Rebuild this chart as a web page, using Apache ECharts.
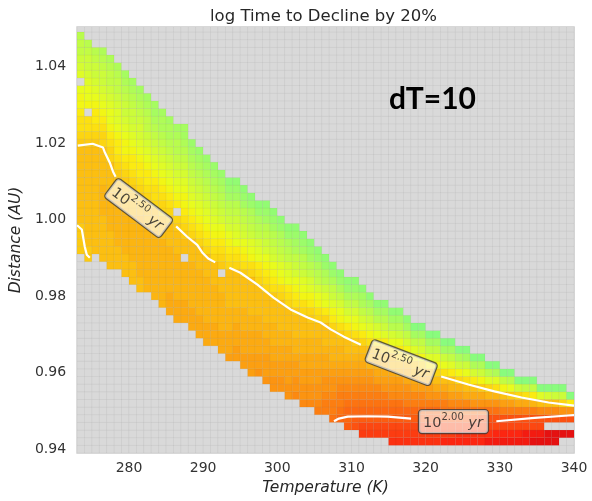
<!DOCTYPE html>
<html><head><meta charset="utf-8">
<script src="https://cdn.jsdelivr.net/npm/echarts@6/dist/echarts.min.js"></script>
<style>html,body{margin:0;padding:0;background:#fff}#c{width:592px;height:501px}</style>
</head><body><div id="c"></div>
<script>
// ---- data ----
// cell left edges in K
const temperatures = [273,274,275,276,277,278,279,280,281,282,283,284,285,286,287,288,289,290,291,292,293,294,295,296,297,298,299,300,301,302,303,304,305,306,307,308,309,310,311,312,313,314,315,316,317,318,319,320,321,322,323,324,325,326,327,328,329,330,331,332,333,334,335,336,337,338,339];
// cell centres in AU
const distances = [0.940,0.942,0.944,0.946,0.948,0.950,0.952,0.954,0.956,0.958,0.960,0.962,0.964,0.966,0.968,0.970,0.972,0.974,0.976,0.978,0.980,0.982,0.984,0.986,0.988,0.990,0.992,0.994,0.996,0.998,1.000,1.002,1.004,1.006,1.008,1.010,1.012,1.014,1.016,1.018,1.020,1.022,1.024,1.026,1.028,1.030,1.032,1.034,1.036,1.038,1.040,1.042,1.044,1.046,1.048,1.050];
// lowest filled distance row of each temperature column
const columnBottomRow = [26,25,26,25,24,24,23,22,21,21,20,19,18,17,17,16,15,14,14,13,12,12,11,10,10,9,8,8,7,7,6,6,5,5,4,4,3,3,2,2,2,2,1,1,1,1,1,1,1,1,1,1,1,1,1,1,1,1,1,1,1,1,1,1,1,2,2];
// log10(time / yr) of each cell from that row upward, coded with levelChars ('.' = no value)
const columnCodes = [
"iiiihhhhhhhhhhijkklmmn.opqrrs",
"iihhhhhhhhhhhhhijkk.mnnopqqrs",
"hhhhhhhhhhhhhhijkllmnopqqrs",
"hhhhhhgggghhhhhjjklmnopqqrst",
"hhhhhggggghhhhjjklmnnopqrrst",
"hhhgggggghhhijkllmnoopqrrst",
"hhhgggggghhhijklmmnopqqrstu",
"hhhgggggghhhijkllmnopqqrstu",
"hhgggggggghhijkllmnoppqrstu",
"ggggggggghhhjkllmnopqrrstu",
"ggggggggghhhjkklmnopqrstuu",
"ggggggggghhhjjklmnopqrsttu",
"fffgggggghhhijklmnopqrsttu",
"fffgggggghhhij.lmnopqrsstu",
"fffggggg.hhijklmmnopqrstuu",
"fffgggggghhhjklmnopqrstuv",
"fffgggggghhhjklmnopqrstuv",
"fffgggggghhhjklmnopqrstuv",
"fffggggghhhjklmnopqrstuv",
"fffggggghh.ijklmnpqrstuv",
"efffggghhhhhjklmnpqrsuvw",
"eefffgghhhhhjklnopqrsuvw",
"eefffggghhhhiklmnpqrsuvw",
"eeefffgghhhhhjkmnoqrstvw",
"deefffgghhhhjklnoprstvw",
"deeeffgghhhhjklmnpqrsuvw",
"ddeeffggghhhiklmnpqrsuvw",
"ddeeffgghhhhjkmnoqrstvw",
"ddeeeffgghhhjklnoprstvw",
"cddeefgghhhiklmnpqrtuvw",
"cddeeffgghhhjkmnoqrsuvw",
"cddeeffgghhijlmoprsuvw",
"bcddeeffgghhjkmnprstvw",
"bbcddeffghhhjlnoqstvw",
"abbcddefgghhjlmoqrtvw",
"9abbcdefgghikmnprtvw",
"899abcdefghhjlnprtvw",
"789abcdefghikmnprtvw",
"5689abcdefghjlnprtuw",
"5689abcdeghhkmoqsuw",
"5689abcefghilnpsuw",
"5689abdefghjloqsuw",
"45689acdefhhknpsuw",
"45689acdeghjlnqsuw",
"45689bcdfghkmpruw",
"45689bcefhilorux",
"45689bceghjmprux",
"45689bdeghlorux",
"45689bdfhjmorux",
"3568abdfhknqux",
"3568aceghlorux",
"3468acegjmqtx",
"3468acfhknqux",
"3468adfhlptx",
"3467adfimqtx",
"2467adgjosx",
"2367adgkotx",
"2367behmrx",
"2367beinsx",
"2367bfjqx",
"2267bfkrx",
"1267bglrx",
"1267chox",
"11.7chpx",
"11.7chqx",
"1.7djqx",
"1.7dlx"
];
const levelChars = "0123456789abcdefghijklmnopqrstuvwxyz";
const levelBase = 1.60;   // log10 yr of code '0'
const levelStep = 0.05;   // log10 yr per code step

const xTicks = [280,290,300,310,320,330,340];
const yTicks = [0.94,0.96,0.98,1.00,1.02,1.04];

// contour 10^2.5 yr (white) segments, [K, AU]
const contour250Segments = [
  [[273.1,1.0193],[275.1,1.0198],[276.5,1.0188],[276.75,1.0175],[277.4,1.0149],[277.85,1.0125],[278.2,1.0112]],
  [[273.0,0.9985],[273.64,0.9974],[274.04,0.9929],[274.31,0.9908],[274.72,0.9900]],
  [[286.36,0.9982],[287.84,0.9955],[289.2,0.9934],[289.87,0.9914],[290.68,0.9898],[291.63,0.9888]],
  [[293.53,0.9874],[295.02,0.9861],[297.32,0.9830],[299.48,0.9796],[301.78,0.9765],[304.08,0.9744],[305.84,0.9731],[307.2,0.9713],[308.96,0.9694],[311.26,0.9673]],
  [[322.09,0.9590],[325.75,0.9569],[329.26,0.9551],[332.92,0.9535],[336.57,0.9522],[340.0,0.9514]]
];
// contour 10^2.0 yr segments
const contour200Segments = [
  [[307.64,0.9473],[308.3,0.9480],[309.5,0.9485],[312.2,0.9486],[314.9,0.9485],[318.03,0.9480]],
  [[329.53,0.9473],[334.7,0.9482],[339.23,0.9488],[340.0,0.9489]]
];
// inline contour labels: position [K, AU], exponent text, angle
const contourLabelPos = [[281.3,1.0030],[316.7,0.9626],[323.75,0.9472]];
const contourLabelExp = ["2.50","2.50","2.00"];
const contourLabelAngle = [-37,-21,0];

// ---- colour map (matplotlib jet) ----
const JET_R=[[0,0],[0.35,0],[0.66,1],[0.89,1],[1,0.5]];
const JET_G=[[0,0],[0.125,0],[0.375,1],[0.64,1],[0.91,0],[1,0]];
const JET_B=[[0,0.5],[0.11,1],[0.34,1],[0.65,0],[1,0]];
function interp(pts,x){
  if(x<=pts[0][0]) return pts[0][1];
  for(let i=1;i<pts.length;i++){ if(x<=pts[i][0]){const a=pts[i-1],b=pts[i];return a[1]+(b[1]-a[1])*(x-a[0])/(b[0]-a[0]);} }
  return pts[pts.length-1][1];
}
const GRAY = 217;
function cellColor(v){
  const f=Math.min(1,Math.max(0,0.697+0.252*(2.5-v)));
  const al=0.92;
  const c=[interp(JET_R,f),interp(JET_G,f),interp(JET_B,f)].map(q=>Math.round(255*q*al+GRAY*(1-al)));
  return 'rgb('+c.join(',')+')';
}

// ---- build cells ----
const cells=[];
for(let c=0;c<temperatures.length;c++){
  for(let r=0;r<distances.length;r++){
    const k=r-columnBottomRow[c];
    const ch=(k>=0&&k<columnCodes[c].length)?columnCodes[c][k]:'.';
    if(ch==='.') cells.push([temperatures[c],distances[r],0,1]);
    else cells.push([temperatures[c],distances[r],levelBase+levelStep*levelChars.indexOf(ch),0]);
  }
}
const halfRow=(distances[1]-distances[0])/2;
const cellWidth=temperatures[1]-temperatures[0];

const FONT='DejaVu Sans';
const series=[{
  type:'custom',coordinateSystem:'cartesian2d',clip:true,progressive:0,silent:true,z:1,
  data:cells,encode:{x:0,y:1},
  renderItem:function(params,api){
    const t=api.value(0),d=api.value(1),v=api.value(2),empty=api.value(3);
    const p0=api.coord([t,d-halfRow]);const p1=api.coord([t+cellWidth,d+halfRow]);
    return {type:'rect',shape:{x:p0[0],y:p1[1],width:p1[0]-p0[0],height:p0[1]-p1[1]},
      style:{fill:empty?'rgb(217,217,217)':cellColor(v),stroke:empty?'rgba(0,0,0,0.03)':'rgba(0,0,0,0.035)',lineWidth:1}};
  }
}];
contour250Segments.concat(contour200Segments).forEach(seg=>{
  series.push({type:'line',data:seg,symbol:'none',silent:true,z:3,clip:true,
    lineStyle:{color:'#ffffff',width:2.2},animation:false});
});
series.push({
  type:'scatter',z:5,silent:true,symbolSize:0,
  data:contourLabelPos.map((p,i)=>({value:p,
    label:{rotate:contourLabelAngle[i],formatter:'{n|10}{s|'+contourLabelExp[i]+'}{u| yr}'}})),
  label:{show:true,position:'inside',
    backgroundColor:'rgba(255,255,255,0.8)',borderColor:'#3a3a3a',borderWidth:1.2,borderRadius:3,
    padding:[2,5,2,4],
    rich:{
      n:{fontFamily:FONT,fontSize:14.5,color:'#1a1a1a',lineHeight:19,verticalAlign:'bottom'},
      s:{fontFamily:FONT,fontSize:10,color:'#1a1a1a',lineHeight:19,verticalAlign:'top',padding:[0,0,6,0]},
      u:{fontFamily:FONT,fontSize:14.5,fontStyle:'italic',color:'#1a1a1a',lineHeight:19,verticalAlign:'bottom'}
    }}
});

const chart=echarts.init(document.getElementById('c'),null,{renderer:'canvas'});
chart.setOption({
  animation:false,
  backgroundColor:'#ffffff',
  title:{text:'log Time to Decline by 20%',left:210,top:8,padding:0,
    textStyle:{fontFamily:FONT,fontSize:16.5,fontWeight:'normal',color:'#262626'}},
  graphic:[{type:'text',left:389,top:84,z:10,style:{text:'dT=10',font:'bold 30px Lato',fill:'#000'}}],
  grid:{left:77,top:27,right:18,bottom:48,show:true,borderColor:'#cccccc',borderWidth:1.5,backgroundColor:'rgb(217,217,217)'},
  xAxis:{type:'value',min:273,max:340,
    name:'Temperature (K)',nameLocation:'middle',nameGap:27,
    nameTextStyle:{fontFamily:FONT,fontSize:15.5,fontStyle:'italic',color:'#262626'},
    axisLine:{show:false},axisTick:{show:false},splitLine:{show:false},
    axisLabel:{customValues:xTicks,margin:8,fontFamily:FONT,fontSize:14,color:'#333'}},
  yAxis:{type:'value',min:0.939,max:1.0503,
    name:'Distance (AU)',nameLocation:'middle',nameGap:47,nameRotate:90,
    nameTextStyle:{fontFamily:FONT,fontSize:15.5,fontStyle:'italic',color:'#262626'},
    axisLine:{show:false},axisTick:{show:false},splitLine:{show:false},
    axisLabel:{customValues:yTicks,margin:11,fontFamily:FONT,fontSize:14,color:'#333',formatter:v=>v.toFixed(2)}},
  series:series
});
</script></body></html>
